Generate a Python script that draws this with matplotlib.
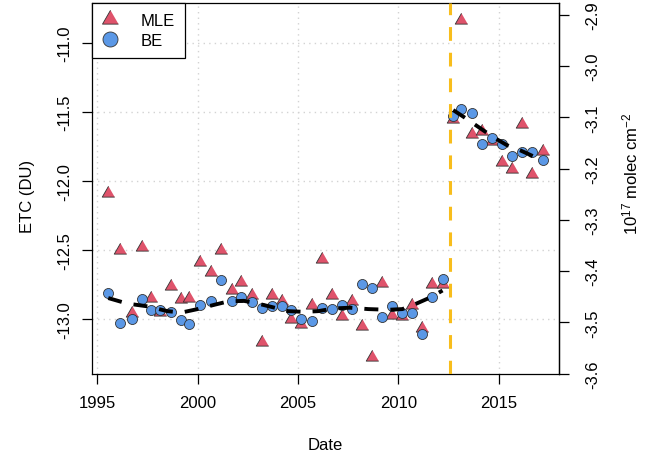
import matplotlib
matplotlib.use("Agg")
import matplotlib.pyplot as plt
from matplotlib.lines import Line2D
import numpy as np

plt.rcParams["font.family"] = ["Liberation Sans", "DejaVu Sans"]
plt.rcParams["font.size"] = 12
plt.rcParams["axes.unicode_minus"] = False
plt.rcParams["mathtext.fontset"] = "custom"
plt.rcParams["mathtext.rm"] = "Liberation Sans"
plt.rcParams["mathtext.it"] = "Liberation Sans:italic"

# decimal years of the retrievals
years = [1995.55, 1996.15, 1996.75, 1997.22, 1997.67, 1998.15, 1998.67, 1999.17,
         1999.58, 2000.12, 2000.65, 2001.17, 2001.70, 2002.15, 2002.69, 2003.19,
         2003.69, 2004.20, 2004.67, 2005.15, 2005.72, 2006.18, 2006.71, 2007.18,
         2007.68, 2008.17, 2008.67, 2009.17, 2009.67, 2010.17, 2010.69, 2011.16,
         2011.69, 2012.20, 2012.73, 2013.12, 2013.68, 2014.15, 2014.65, 2015.15,
         2015.67, 2016.15, 2016.67, 2017.19]

mle = [-12.09, -12.50, -12.96, -12.48, -12.85, -12.95, -12.76, -12.86,
       -12.85, -12.59, -12.66, -12.50, -12.79, -12.73, -12.83, -13.17,
       -12.83, -12.87, -13.00, -13.04, -12.90, -12.57, -12.83, -12.98,
       -12.87, -13.05, -13.28, -12.74, -12.97, -12.98, -12.90, -13.07,
       -12.75, -12.75, -11.55, -10.83, -11.66, -11.64, -11.71, -11.86,
       -11.91, -11.59, -11.95, -11.78]

be = [-12.81, -13.03, -13.00, -12.86, -12.94, -12.94, -12.95, -13.01,
      -13.04, -12.90, -12.87, -12.72, -12.87, -12.84, -12.88, -12.92,
      -12.91, -12.91, -12.94, -13.00, -13.02, -12.92, -12.93, -12.90,
      -12.93, -12.75, -12.78, -12.99, -12.91, -12.96, -12.96, -13.11,
      -12.84, -12.71, -11.53, -11.48, -11.51, -11.73, -11.69, -11.73,
      -11.82, -11.79, -11.79, -11.85]

# smoothed trend, before and after the instrument change
trend_pre_x = [1995.55, 1996.5, 1997.5, 1998.5, 1999.2, 2000.0, 2000.8, 2001.5,
               2002.3, 2003.0, 2003.7, 2004.5, 2005.3, 2006.0, 2006.8, 2007.6,
               2008.5, 2009.5, 2010.2, 2010.9, 2011.6, 2012.2]
trend_pre_y = [-12.85, -12.89, -12.91, -12.945, -12.955, -12.93, -12.90, -12.875,
               -12.87, -12.89, -12.915, -12.945, -12.95, -12.945, -12.925, -12.92,
               -12.93, -12.935, -12.93, -12.89, -12.845, -12.795]
trend_post_x = [2012.73, 2013.3, 2014.0, 2014.7, 2015.4, 2016.1, 2016.7, 2017.19]
trend_post_y = [-11.486, -11.54, -11.61, -11.68, -11.74, -11.78, -11.82, -11.86]

change_year = 2012.57

DU_TO_1E17 = 0.26867

tri = [(0, 1), (-0.866, -0.5), (0.866, -0.5)]
red = "#DF536B"
blue = "#5B98E6"

fig = plt.figure(figsize=(6.54, 4.6), dpi=100)
ax = fig.add_axes([0.14067, 0.18478, 0.71407, 0.80652])

ax.set_xlim(1994.74, 2018.0)
ax.set_ylim(-13.401, -10.709)

xt = [1995, 2000, 2005, 2010, 2015]
yt = [-13.0, -12.5, -12.0, -11.5, -11.0]
ax.set_xticks(xt)
ax.set_yticks(yt)
ax.set_yticklabels(["%.1f" % v for v in yt])

for v in xt:
    ax.axvline(v, color="#D3D3D3", lw=1, linestyle=(0, (1, 3)), zorder=0)
for v in yt:
    ax.axhline(v, color="#D3D3D3", lw=1, linestyle=(0, (1, 3)), zorder=0)

ax.plot(years, mle, linestyle="none", marker=tri, ms=10.4, mfc=red,
        mec="#333333", mew=0.6, zorder=2)
ax.plot(years, be, linestyle="none", marker="o", ms=7.2, mfc=blue,
        mec="#333333", mew=0.6, zorder=3)

ax.plot(trend_pre_x, trend_pre_y, color="black", lw=2.8,
        dashes=(3.6, 3.1), dash_capstyle="butt", zorder=4)
ax.plot(trend_post_x, trend_post_y, color="black", lw=2.8,
        dashes=(3.6, 3.1), dash_capstyle="butt", zorder=4)

ax.axvline(change_year, color="#F8BD1C", lw=2.2, dashes=(4.5, 3.9), zorder=5)

for s in ax.spines.values():
    s.set_color("black")
    s.set_linewidth(0.9)

ax.tick_params(axis="both", direction="out", length=7, width=0.9, colors="black")
ax.tick_params(axis="x", pad=8)
ax.tick_params(axis="y", pad=7, labelrotation=90)
for lbl in ax.get_yticklabels():
    lbl.set_va("center")

ax.set_xlabel("Date")
ax.xaxis.set_label_coords(0.5, -0.17)
ax.set_ylabel("ETC (DU)")
ax.yaxis.set_label_coords(-0.122, 0.48)

# right axis in 10^17 molec cm^-2
sec = ax.secondary_yaxis("right", functions=(lambda y: y * DU_TO_1E17,
                                             lambda y: y / DU_TO_1E17))
rt = np.round(np.arange(-3.6, -2.85, 0.1), 1)
sec.set_yticks(rt)
sec.set_yticklabels(["%.1f" % v for v in rt])
sec.tick_params(axis="y", direction="out", length=7, width=0.9, pad=12,
                labelrotation=90)
for lbl in sec.get_yticklabels():
    lbl.set_va("center")
sec.spines["right"].set_linewidth(0.9)
fig.text(630 / 654, 1 - 174 / 460, r"$10^{17}$ molec cm$^{-2}$",
         rotation=90, ha="center", va="center")

handles = [
    Line2D([], [], linestyle="none", marker=tri, ms=13.3, mfc=red,
           mec="#333333", mew=0.6),
    Line2D([], [], linestyle="none", marker="o", ms=10.8, mfc=blue,
           mec="#333333", mew=0.6),
]
leg = ax.legend(handles, ["MLE", "BE"], loc="upper left",
                bbox_to_anchor=(0, 1), borderaxespad=0, fancybox=False,
                framealpha=1, edgecolor="black", handlelength=1.0,
                handletextpad=1.33, borderpad=0.6, labelspacing=0.3)
leg.get_frame().set_linewidth(0.9)
leg.set_zorder(10)

fig.savefig("out.png", dpi=100)
